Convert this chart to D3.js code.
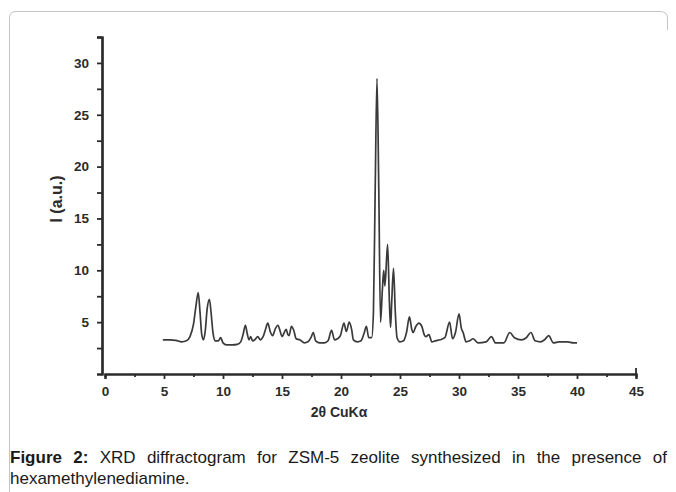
<!DOCTYPE html>
<html><head><meta charset="utf-8">
<script src="https://cdn.jsdelivr.net/npm/d3@7"></script>
<style>
html,body{margin:0;padding:0;background:#fff;}
svg{display:block;}
</style></head>
<body>
<svg id="chart" width="676" height="492"></svg>
<script>
// 2θ (degrees) and intensity (a.u.)
const twoTheta = [4.9,5.5,6.0,6.5,6.9,7.2,7.5,7.7,7.9,8.05,8.2,8.35,8.5,8.65,8.85,9.0,9.15,9.35,9.6,9.8,10.0,10.3,10.8,11.2,11.5,11.7,11.9,12.05,12.2,12.35,12.5,12.7,12.95,13.15,13.4,13.6,13.8,14.0,14.2,14.45,14.65,14.85,15.0,15.15,15.35,15.5,15.6,15.8,16.0,16.2,16.5,16.9,17.2,17.45,17.65,17.85,18.2,18.6,18.9,19.2,19.45,19.7,19.95,20.25,20.45,20.7,20.9,21.05,21.4,21.7,21.95,22.15,22.35,22.6,22.75,22.9,23.05,23.2,23.35,23.5,23.62,23.72,23.95,24.1,24.2,24.3,24.45,24.6,24.75,25.0,25.3,25.55,25.8,26.0,26.1,26.35,26.6,26.85,27.05,27.2,27.45,27.7,28.0,28.4,28.8,29.2,29.45,29.7,30.0,30.2,30.35,30.6,30.9,31.2,31.6,32.3,32.75,33.1,33.8,34.3,34.7,35.3,35.7,36.1,36.45,36.9,37.25,37.6,38.0,38.5,39.2,39.7,40.0];
const intensity = [3.3,3.3,3.25,3.1,3.2,3.6,4.8,6.5,7.85,6.0,3.8,3.3,4.2,6.2,7.2,5.8,4.0,3.2,3.2,3.5,3.0,2.8,2.8,2.85,3.1,3.8,4.7,3.9,3.3,3.6,3.2,3.3,3.6,3.3,3.6,4.3,4.9,4.1,3.7,4.4,4.7,4.1,3.6,3.9,4.3,3.8,3.7,4.6,4.2,3.4,3.3,3.0,3.1,3.5,4.0,3.2,3.0,3.0,3.2,4.2,3.3,3.4,3.7,4.9,4.1,5.0,4.3,3.3,3.1,3.2,3.9,4.6,3.5,3.5,6.0,18.0,28.5,18.0,5.0,8.0,10.0,8.5,12.5,7.0,4.5,7.0,10.2,6.0,3.5,3.1,3.2,4.0,5.5,4.3,4.0,4.6,4.9,4.6,3.8,3.6,3.8,3.1,3.2,3.3,3.5,5.0,3.4,4.0,5.8,4.4,4.0,3.1,3.2,3.4,3.0,3.1,3.6,3.0,3.0,4.0,3.5,3.3,3.5,4.0,3.2,3.1,3.3,3.7,3.0,3.1,3.1,3.0,3.0];
const xMajorTicks = [0,5,10,15,20,25,30,35,40,45];
const xMinorTicks = [2.5,7.5,12.5,17.5,22.5,27.5,32.5,37.5,42.5];
const yMajorTicks = [5,10,15,20,25,30];
const yMinorTicks = [2.5,7.5,12.5,17.5,22.5,27.5,32.5];
const xTitle = "2θ CuKα";
const yTitle = "I (a.u.)";
const captionBold = "Figure 2:";
const captionLine1 = " XRD diffractogram for ZSM-5 zeolite synthesized in the presence of";
const captionLine2 = "hexamethylenediamine.";

const svg = d3.select("#chart");
const ink = "#2b2b2b";
const font = "'Liberation Sans', Arial, Helvetica, sans-serif";

// frame
svg.append("path")
  .attr("d","M9.5,492 L9.5,18 Q9.5,11.5 16,11.5 L660,11.5 Q667.5,11.5 667.5,18 L667.5,30")
  .attr("fill","none").attr("stroke","#c4c4c4").attr("stroke-width",1);

const x = d3.scaleLinear().domain([0,45]).range([105,636]);
const y = d3.scaleLinear().domain([0,32.5]).range([374,37]);

const g = svg.append("g");

// x axis
const xAxis = g.append("g").attr("transform","translate(0,374)")
  .call(d3.axisBottom(x).tickValues(xMajorTicks).tickSize(5).tickFormat(d3.format("d")));
const xMinor = g.append("g").attr("transform","translate(0,374)")
  .call(d3.axisBottom(x).tickValues(xMinorTicks).tickSize(3).tickFormat(""));
// y axis
const yAxis = g.append("g").attr("transform","translate(102,0)")
  .call(d3.axisLeft(y).tickValues(yMajorTicks).tickSize(5).tickFormat(d3.format("d")));
const yMinor = g.append("g").attr("transform","translate(102,0)")
  .call(d3.axisLeft(y).tickValues(yMinorTicks).tickSize(5).tickFormat(""));

[xAxis,xMinor,yAxis,yMinor].forEach(a=>{
  a.select(".domain").attr("stroke",ink).attr("stroke-width",2.2);
  a.selectAll(".tick line").attr("stroke",ink).attr("stroke-width",1.8);
  a.selectAll(".tick text").attr("fill",ink).attr("font-family",font)
    .attr("font-weight","bold").attr("font-size","13.5px");
});
xAxis.selectAll(".tick text").attr("dy","1.0em");
yAxis.selectAll(".tick text").attr("x",-13);
// end tick at x=45 pointing up
g.append("line").attr("x1",x(45)).attr("x2",x(45)).attr("y1",374).attr("y2",368)
  .attr("stroke",ink).attr("stroke-width",1.8);

// titles
svg.append("text").attr("transform","translate(62,199) rotate(-90)")
  .attr("text-anchor","middle").attr("font-family",font).attr("font-weight","bold")
  .attr("font-size","16px").attr("fill",ink).text(yTitle);
svg.append("text").attr("x",339).attr("y",417)
  .attr("text-anchor","middle").attr("font-family",font).attr("font-weight","bold")
  .attr("font-size","14px").attr("fill",ink).text(xTitle);

// trace
const pts = twoTheta.map((t,i)=>[t,intensity[i]]);
g.append("path").datum(pts)
  .attr("fill","none").attr("stroke","#3a3a3a").attr("stroke-width",1.7)
  .attr("stroke-linejoin","round")
  .attr("d", d3.line().x(d=>x(d[0])).y(d=>y(d[1])).curve(d3.curveMonotoneX));

// caption (first line justified like the source page)
const capSize = 17;
const capX = 10;
const cap = svg.append("text").attr("x",capX).attr("y",463)
  .attr("font-family",font).attr("font-size",capSize+"px").attr("fill","#1a1a1a");
cap.append("tspan").attr("font-weight","bold").text(captionBold);
cap.append("tspan").text(captionLine1);
const natural = cap.node().getComputedTextLength();
const nSpaces = (captionBold+captionLine1).split(" ").length - 1;
const ws = Math.max(0,(667 - capX - natural)/nSpaces);
cap.attr("word-spacing", ws);
svg.append("text").attr("x",capX).attr("y",484)
  .attr("font-family",font).attr("font-size",capSize+"px").attr("fill","#1a1a1a").text(captionLine2);
</script>
</body></html>
